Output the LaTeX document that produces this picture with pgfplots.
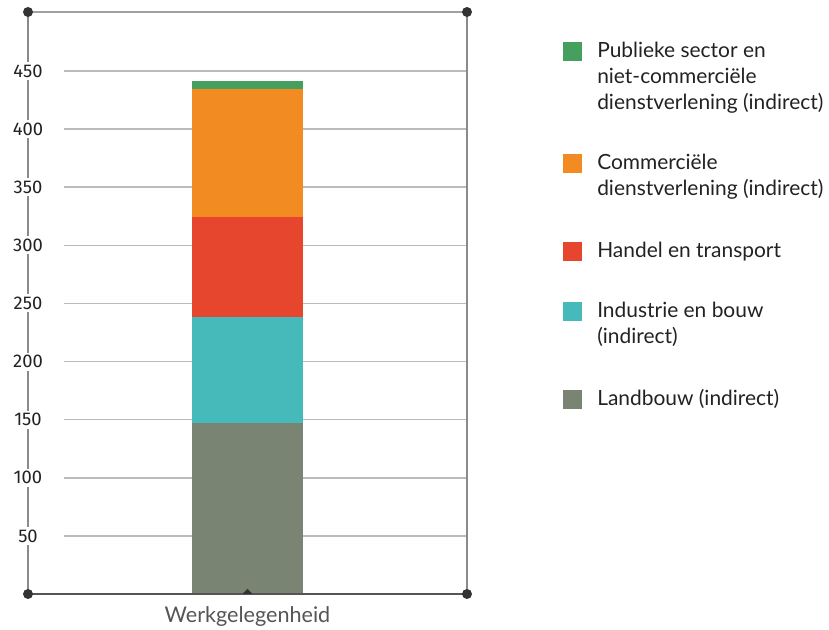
\documentclass[border=0pt]{standalone}
\usepackage{fontspec}
\setmainfont{Lato}
\newfontfamily\tickfont{Fira Sans}
\usepackage{pgfplots}
\pgfplotsset{compat=1.18}
\pgfdeclarelayer{bg}
\pgfsetlayers{bg,main}
\definecolor{cgreen}{HTML}{45A05F}
\definecolor{corange}{HTML}{F28C22}
\definecolor{cred}{HTML}{E5462D}
\definecolor{cteal}{HTML}{46B9BA}
\definecolor{cgray}{HTML}{7A8472}
\definecolor{cdark}{HTML}{333333}
\definecolor{cline}{HTML}{8A8A8A}
\definecolor{cgrid}{HTML}{BBBBBB}
\definecolor{ctext}{HTML}{222222}
\definecolor{clabel}{HTML}{555555}
\begin{document}
\begin{tikzpicture}[x=0.75pt,y=0.75pt]
\useasboundingbox (-28,-36) rectangle (801,594);
\begin{axis}[
  at={(0,0)}, anchor=south west,
  scale only axis, width=329.25pt, height=436.5pt,
  xmin=0, xmax=1, ymin=0, ymax=500.8,
  clip=false,
  axis line style={draw=none},
  ybar stacked, bar width=83.25pt,
  ytick={50,100,...,450},
  xtick={0.5}, xticklabels={Werkgelegenheid},
  major tick length=0pt,
  /pgf/number format/assume math mode=true,
  yticklabel style={font=\tickfont\fontsize{13.8}{14}\selectfont, anchor=center, fill=white, text=ctext, inner xsep=2pt, inner ysep=2pt},
  xticklabel style={font=\fontsize{16.2}{18}\selectfont, text=clabel, anchor=base, yshift=-21.5pt},
]
\addplot[fill=cgray, draw=none] coordinates {(0.5,147.1)};
\addplot[fill=cteal, draw=none] coordinates {(0.5,91.2)};
\addplot[fill=cred, draw=none] coordinates {(0.5,86.1)};
\addplot[fill=corange, draw=none] coordinates {(0.5,110.1)};
\addplot[fill=cgreen, draw=none] coordinates {(0.5,6.9)};
\coordinate (tri) at (axis cs:0.5,0);
\end{axis}
\begin{pgfonlayer}{bg}
\foreach \v in {50,100,...,450}{
  \draw[cgrid, line width=1.1pt] (36,{\v*1.16222}) -- (439,{\v*1.16222});
}
\draw[cline, line width=1.1pt] (0,0) -- (0,582);
\draw[cline, line width=1.1pt] (439,0) -- (439,582);
\draw[cline!80, line width=0.9pt] (0,582) -- (439,582);
\end{pgfonlayer}
\draw[clabel, line width=1.1pt] (0,0) -- (439,0);
\fill[cdark] (tri) ++(-5,0) -- ++(5,5) -- ++(5,-5) -- cycle;
\foreach \p in {(0,0),(439,0),(0,582),(439,582)}{
  \fill[cdark] \p circle[radius=5];
}
% legend
\begin{scope}[every node/.style={anchor=base west, inner sep=0pt, text=ctext, font=\fontsize{15.7}{18}\selectfont}]
\fill[cgreen] (535,532.5) rectangle (554,551.5);
\node at (569,536) {Publieke sector en};
\node at (569,510) {niet-commerciële};
\node at (569,484) {dienstverlening (indirect)};
\fill[corange] (535,420.5) rectangle (554,439.5);
\node at (569,424) {Commerciële};
\node at (569,398) {dienstverlening (indirect)};
\fill[cred] (535,332.5) rectangle (554,351.5);
\node at (569,336) {Handel en transport};
\fill[cteal] (535,272.5) rectangle (554,291.5);
\node at (569,276) {Industrie en bouw};
\node at (569,250) {(indirect)};
\fill[cgray] (535,184.5) rectangle (554,203.5);
\node at (569,188) {Landbouw (indirect)};
\end{scope}
\end{tikzpicture}
\end{document}
